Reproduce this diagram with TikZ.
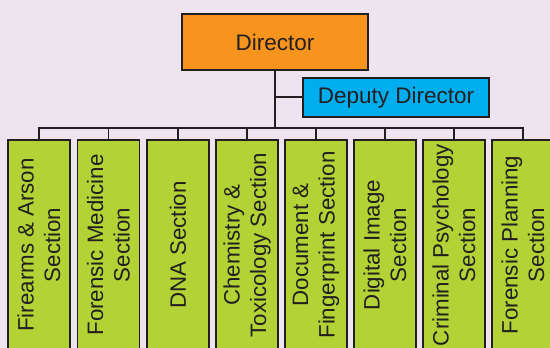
\documentclass[tikz,border=0pt]{standalone}
\usepackage{fontspec}
\setmainfont{Liberation Sans}
\definecolor{bg}{HTML}{EEE4F0}
\definecolor{dirorange}{HTML}{F7941E}
\definecolor{depblue}{HTML}{00AEEF}
\definecolor{secgreen}{HTML}{B2D235}
\definecolor{edge}{HTML}{231F20}
\begin{document}
\begin{tikzpicture}[x=1pt,y=-1pt,
  topbox/.style={draw=edge, line width=1.6pt, minimum width=186pt, inner sep=0pt,
    font=\fontsize{22.5}{26}\selectfont, text=edge},
  secbox/.style={draw=edge, line width=1.4pt, fill=secgreen, rotate=90,
    minimum width=210pt, minimum height=62pt, inner sep=0pt, align=center,
    font=\fontsize{22.3}{26.5}\selectfont, text=edge},
  wire/.style={draw=edge, line width=1.8pt}]
\useasboundingbox (0,0) rectangle (550,348);
\fill[bg] (0,0) rectangle (550,348);
\clip (0,0) rectangle (550,348);
\node[topbox, fill=dirorange, minimum height=56pt] (dir) at (275,42) {Director};
\node[topbox, fill=depblue, minimum height=39pt] (dep) at (396,97.5) {Deputy Director};
\coordinate (bus) at (275,128);
\node[secbox] (b1) at (39,245) {Firearms \& Arson\\Section};
\node[secbox] (b2) at (108.5,245) {Forensic Medicine\\Section};
\node[secbox] (b3) at (178,245) {DNA Section};
\node[secbox] (b4) at (247,245) {Chemistry \&\\Toxicology Section};
\node[secbox] (b5) at (316,245) {Document \&\\Fingerprint Section};
\node[secbox] (b6) at (385,245) {Digital Image\\Section};
\node[secbox] (b7) at (454,245) {Criminal Psychology\\Section};
\node[secbox] (b8) at (523,245) {Forensic Planning\\Section};
\draw[wire] (dir.south) -- (bus);
\draw[wire] (dep.west |- 0,97) -- (275,97);
\draw[wire] (b1.east) -- (b1.east |- bus) -- (b8.east |- bus) -- (b8.east);
\foreach \i in {2,...,7} \draw[wire] (b\i.east) -- (b\i.east |- bus);
\end{tikzpicture}
\end{document}
